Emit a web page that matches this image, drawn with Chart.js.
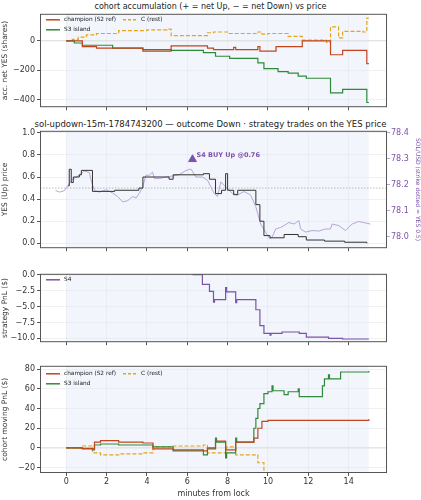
<!DOCTYPE html>
<html><head><meta charset="utf-8">
<script src="https://cdn.jsdelivr.net/npm/chart.js@4.4.1/dist/chart.umd.min.js"></script>
<style>
body{margin:0;width:421px;height:500px;background:#fff;position:relative;overflow:hidden;font-family:"DejaVu Sans",sans-serif}
canvas{position:absolute;left:0}
.t{position:absolute;left:0;width:421px;text-align:center;font-size:8px;color:#222}
</style></head><body>
<div class="t" style="top:2px">cohort accumulation (+ = net Up, − = net Down) vs price</div>
<div class="t" style="top:119px;font-size:8.5px">sol-updown-15m-1784743200 — outcome Down · strategy trades on the YES price</div>
<canvas id="c1"></canvas><canvas id="c2"></canvas><canvas id="c3"></canvas><canvas id="c4"></canvas>
<script>
// panel 1: accumulated net YES shares
const accChampX = [0,0.8,1.5,3.8,5.2,7.0,7.3,8.3,8.4,9.0,9.5,9.6,10.4,11.7,13.1,13.7,14.9,15.0];
const accChampY = [0,-40,-50,-70,-35,-50,-60,-45,-60,-60,-40,-70,-40,0,-95,-65,-155,-155];
const accIslandX = [0,0.4,0.8,2.3,3.8,5.2,6.8,7.4,8.1,9.5,9.8,10.5,11.0,11.5,11.9,13.1,13.7,14.9,15.0];
const accIslandY = [0,-15,-30,-50,-60,-65,-80,-105,-120,-150,-190,-210,-220,-240,-255,-355,-330,-420,-420];
const accRestX = [0,0.3,0.6,1.0,1.5,2.6,4.0,5.0,5.2,7.0,7.3,8.0,9.5,9.7,10.0,11.0,11.7,12.9,13.1,13.5,13.7,14.7,14.9,15.0];
const accRestY = [0,10,25,40,50,70,75,80,35,55,60,50,60,45,50,30,5,-10,95,20,65,60,155,155];

// panel 2: YES price and SOL/USD
const yesX = [0.1,0.15,0.25,0.35,0.65,0.75,1.3,2.4,3.6,3.8,5.1,5.3,6.8,7.1,7.4,7.7,7.9,8.0,8.3,8.5,9.2,9.4,9.6,9.8,10.1,10.8,11.5,11.9,12.8,13.8,14.9];
const yesY = [0.52,0.67,0.55,0.6,0.62,0.66,0.47,0.48,0.5,0.6,0.58,0.62,0.63,0.58,0.45,0.48,0.63,0.48,0.44,0.48,0.48,0.35,0.2,0.07,0.05,0.08,0.06,0.03,0.02,0.01,0.0];
const solX = [-0.53,-0.33,-0.08,0.08,0.25,0.58,0.91,1.15,1.24,1.4,1.65,1.98,2.31,2.55,2.8,3.05,3.29,3.46,3.62,3.79,3.95,4.12,4.28,4.37,4.61,4.94,5.27,5.6,5.93,6.18,6.43,6.76,7.0,7.17,7.33,7.5,7.66,7.91,8.07,8.24,8.49,8.81,9.14,9.39,9.64,9.88,10.08,10.21,10.38,10.63,10.79,11.04,11.29,11.53,11.62,11.86,12.19,12.52,12.85,13.1,13.18,13.51,13.84,14.17,14.5,14.83,15.08];
const solY = [78.177,78.171,78.177,78.196,78.215,78.233,78.252,78.246,78.215,78.177,78.171,78.18,78.167,78.154,78.133,78.138,78.154,78.148,78.166,78.191,78.236,78.236,78.248,78.223,78.223,78.229,78.233,78.238,78.254,78.26,78.229,78.229,78.217,78.191,78.166,78.154,78.21,78.191,78.179,78.166,78.16,78.173,78.16,78.116,78.048,78.017,77.992,77.998,78.029,78.035,78.042,78.054,78.048,78.061,78.029,78.017,78.023,78.021,78.029,78.029,78.048,78.042,78.023,78.048,78.058,78.052,78.048];
const buyX = [6.26];
const buyY = [0.76];

// panel 3: strategy PnL
const s4X = [6.26,6.75,7.1,7.3,7.35,7.9,7.95,8.4,8.45,9.4,9.6,9.8,10.1,10.15,10.7,11.5,11.55,11.9,12.9,13.0,13.7,15.0];
const s4Y = [0,-1.5,-2.6,-4.3,-3.9,-2.0,-2.7,-4.4,-3.9,-5.5,-8.0,-9.2,-9.5,-9.2,-9.0,-9.0,-9.2,-9.8,-9.8,-10.0,-10.1,-10.1];

// panel 4: cohort moving PnL
const pnlChampX = [0,0.8,1.3,1.4,1.7,2.6,3.8,4.3,5.3,6.8,7.0,7.4,7.9,8.4,9.3,9.5,9.7,10.0,11.5,15.0];
const pnlChampY = [0,-0.5,-1,6,7.5,6,5,-1,-2,-3,0,7,-2,6,10,20,27,28,28,29];
const pnlIslandX = [0,0.8,1.3,1.4,1.7,2.6,4.3,5.3,6.8,7.0,7.4,7.45,7.9,7.95,8.4,8.45,9.3,9.4,9.5,9.6,9.8,10.0,10.2,10.25,10.8,11.0,11.5,11.55,12.7,12.8,13.0,13.05,13.6,15.0];
const pnlIslandY = [0,-1,-2,3,4,3,1,-3,-7,-1,10,6,-10,-5,10,6,20,30,40,45,55,57,63,58,54,57,60,52,63,70,74,70,77,78];
const pnlRestX = [0,0.8,1.3,1.7,2.6,3.8,4.3,5.3,6.8,7.0,7.9,7.95,8.4,9.4,9.5,9.8,10.2,11.0,12.0,15.0];
const pnlRestY = [0,2,-5,-7,-6,-5,1,2,3,-5,-4,1,-7,-7,-15,-27,-29,-27,-28,-28];

const xTicks = [0,2,4,6,8,10,12,14];
const RED = '#c1451f', GREEN = '#2f8a3b', ORANGE = '#e3a51c', PURPLE = '#7d52aa', LPURPLE = '#b7a5d6', BLACK = '#333';

const pts = (xs, ys) => xs.map((x, i) => ({x: x, y: ys[i]}));
const fixed = vals => s => { s.ticks = vals.map(v => ({value: v})); };
const minus = v => String(v).replace('-', '−');
Chart.defaults.font.family = 'DejaVu Sans';
Chart.defaults.font.size = 8;
Chart.defaults.color = '#333';
Chart.defaults.animation = false;

const deco = {
  id: 'deco',
  beforeDatasetsDraw(c, a, o) {
    const {ctx, chartArea: ca, scales} = c;
    const x = scales.x, y = scales.y;
    ctx.save();
    ctx.fillStyle = 'rgba(226,232,246,0.45)';
    ctx.fillRect(x.getPixelForValue(0), ca.top, x.getPixelForValue(15) - x.getPixelForValue(0), ca.height);
    if (o.hline !== undefined) {
      const py = y.getPixelForValue(o.hline);
      ctx.strokeStyle = o.dotted ? '#bbb' : '#ddd';
      ctx.lineWidth = 1;
      if (o.dotted) ctx.setLineDash([1.5, 1.5]);
      ctx.beginPath(); ctx.moveTo(ca.left, py); ctx.lineTo(ca.right, py); ctx.stroke();
    }
    ctx.restore();
  },
  afterDraw(c, a, o) {
    const {ctx, chartArea: ca} = c;
    ctx.save();
    ctx.strokeStyle = '#555'; ctx.lineWidth = 1;
    ctx.strokeRect(ca.left + 0.5, ca.top + 0.5, ca.width - 1, ca.height - 1);
    if (o.legend) {
      ctx.font = '5.8px "DejaVu Sans"';
      o.legend.forEach(l => {
        const lx = ca.left + l.col, ly = ca.top + l.row;
        ctx.strokeStyle = l.color; ctx.lineWidth = 1.5;
        ctx.setLineDash(l.dash ? [3, 2] : []);
        ctx.beginPath(); ctx.moveTo(lx, ly); ctx.lineTo(lx + 14, ly); ctx.stroke();
        ctx.fillStyle = '#222'; ctx.textBaseline = 'middle';
        ctx.fillText(l.label, lx + 18, ly);
      });
    }
    if (o.note) {
      const px = c.scales.x.getPixelForValue(buyX[0]), py = c.scales.y.getPixelForValue(buyY[0]);
      ctx.fillStyle = PURPLE; ctx.font = 'bold 6.5px "DejaVu Sans"'; ctx.textBaseline = 'middle';
      ctx.fillText('S4 BUY Up @0.76', px + 4, py - 4);
    }
    ctx.restore();
  }
};

function line(data, color, dash, w) {
  return {data: data, borderColor: color, borderWidth: w || 1.2, borderDash: dash ? [4, 2] : [],
    stepped: 'before', pointRadius: 0, fill: false, yAxisID: 'y'};
}

function make(id, top, plotH, xh, datasets, yopt, opts, rightAxis) {
  const cv = document.getElementById(id);
  const H = plotH + 6 + xh;
  cv.style.top = (top - 6) + 'px';
  cv.width = 421; cv.height = H; cv.style.width = '421px'; cv.style.height = H + 'px';
  const scales = {
    x: {type: 'linear', min: -1.3, max: 15.9,
      afterBuildTicks: fixed(xTicks),
      afterFit: s => { s.height = xh; },
      grid: {color: 'rgba(0,0,0,0.06)', tickColor: '#555', tickLength: 3},
      border: {display: false},
      ticks: {display: xh > 10, padding: 1},
      title: {display: xh > 10, text: 'minutes from lock', padding: 1, font: {size: 8}}},
    y: Object.assign({position: 'left', afterFit: s => { s.width = 40; },
      grid: {color: 'rgba(0,0,0,0.06)', tickColor: '#555', tickLength: 3},
      border: {display: false}}, yopt)
  };
  if (rightAxis) scales.y2 = rightAxis;
  return new Chart(cv, {
    type: 'line',
    data: {datasets: datasets},
    options: {responsive: false, devicePixelRatio: 1,
      layout: {padding: {top: 6, right: rightAxis ? 0 : 34, left: 0, bottom: 0}},
      plugins: {legend: {display: false}, tooltip: {enabled: false}, deco: opts},
      scales: scales},
    plugins: [deco]
  });
}

make('c1', 13, 97, 4, [
  line(pts(accChampX, accChampY), RED),
  line(pts(accIslandX, accIslandY), GREEN),
  line(pts(accRestX, accRestY), ORANGE, true)
], {min: -452, max: 184, afterBuildTicks: fixed([-400, -200, 0]), ticks: {padding: 2, callback: minus},
   title: {display: true, text: 'acc. net YES (shares)', padding: 1, font: {size: 7.5}}},
{hline: 0, legend: [
  {label: 'champion (S2 ref)', color: RED, col: 6, row: 6},
  {label: 'S3 island', color: GREEN, col: 6, row: 16},
  {label: 'C (rest)', color: ORANGE, dash: true, col: 83, row: 6}]});

make('c2', 130, 121, 4, [
  line(pts(yesX, yesY), BLACK, false, 1),
  Object.assign(line(pts(solX, solY), LPURPLE, false, 1), {yAxisID: 'y2', stepped: false, tension: 0}),
  {type: 'scatter', data: pts(buyX, buyY), pointStyle: 'triangle', pointRadius: 4.5,
   backgroundColor: PURPLE, borderColor: PURPLE, yAxisID: 'y'}
], {min: -0.044, max: 1.018, afterBuildTicks: fixed([0, 0.2, 0.4, 0.6, 0.8, 1.0]),
   ticks: {padding: 2, callback: v => v.toFixed(1)}, title: {display: true, text: 'YES (Up) price', padding: 1, font: {size: 7.5}}},
{hline: 0.5, dotted: true, note: true},
{position: 'right', min: 77.955, max: 78.407, afterFit: s => { s.width = 34; },
  afterBuildTicks: fixed([78.0, 78.1, 78.2, 78.3, 78.4]),
  grid: {drawOnChartArea: false, tickColor: LPURPLE, tickLength: 3}, border: {display: false},
  ticks: {color: PURPLE, padding: 1, callback: v => v.toFixed(1)},
  title: {display: true, text: 'SOL/USD (strike dotted = YES 0.5)', color: PURPLE, padding: 0, font: {size: 6}}});

make('c3', 273, 72, 4, [
  line(pts(s4X, s4Y), PURPLE)
], {min: -10.6, max: 0.15, afterBuildTicks: fixed([0, -2.5, -5, -7.5, -10]),
   ticks: {padding: 2, callback: v => minus(v.toFixed(1))}, title: {display: true, text: 'strategy PnL ($)', padding: 1, font: {size: 7.5}}},
{hline: 0, legend: [{label: 'S4', color: PURPLE, col: 6, row: 6}]});

make('c4', 365, 108, 27, [
  line(pts(pnlChampX, pnlChampY), RED),
  line(pts(pnlIslandX, pnlIslandY), GREEN),
  line(pts(pnlRestX, pnlRestY), ORANGE, true)
], {min: -25.4, max: 83.3, afterBuildTicks: fixed([-20, 0, 20, 40, 60, 80]),
   ticks: {padding: 2, callback: minus}, title: {display: true, text: 'cohort moving PnL ($)', padding: 1, font: {size: 7.5}}},
{hline: 0, legend: [
  {label: 'champion (S2 ref)', color: RED, col: 6, row: 8},
  {label: 'S3 island', color: GREEN, col: 6, row: 18},
  {label: 'C (rest)', color: ORANGE, dash: true, col: 83, row: 8}]});
</script></body></html>
